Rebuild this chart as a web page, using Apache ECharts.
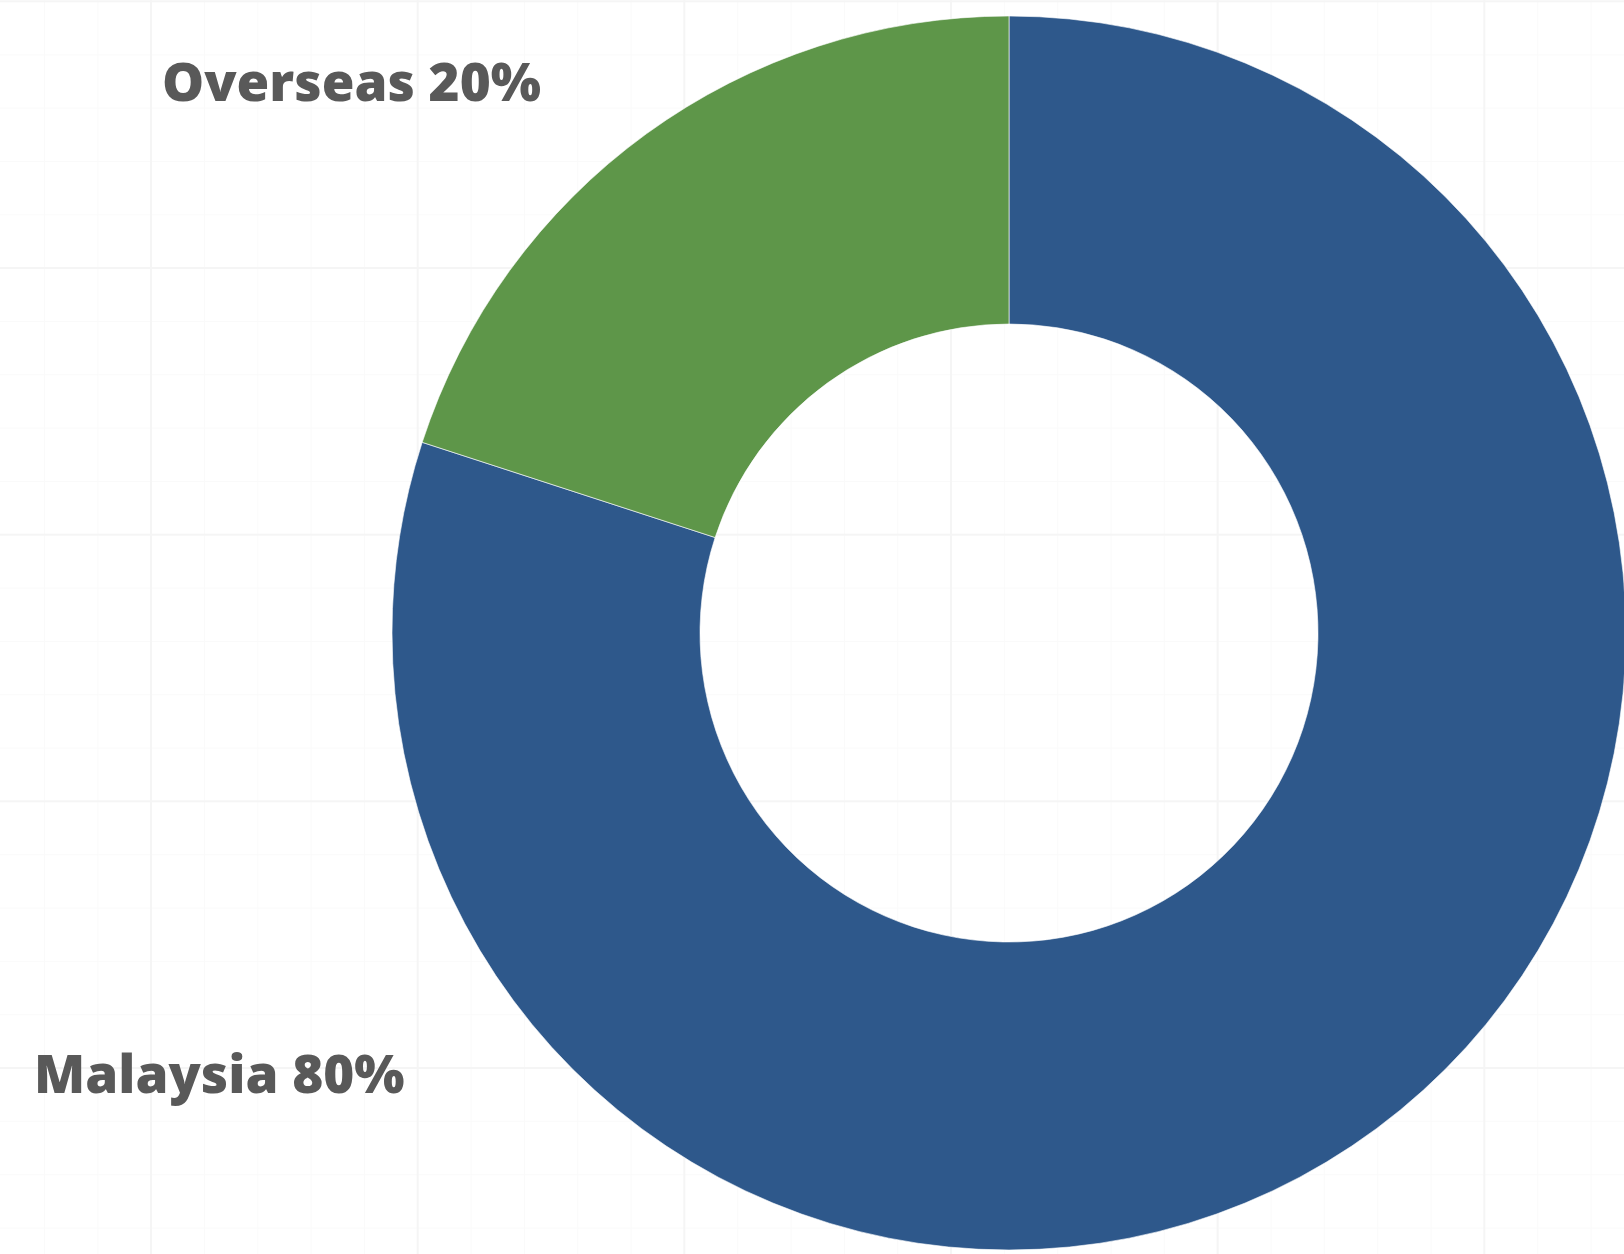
<!DOCTYPE html>
<html>
<head>
<meta charset="utf-8">
<script src="https://cdn.jsdelivr.net/npm/echarts@6/dist/echarts.min.js"></script>
<style>
  html, body { margin: 0; padding: 0; background: #ffffff; }
  #chart {
    width: 1624px;
    height: 1254px;
    background-color: #ffffff;
    /* faint drafting grid behind the donut: major lines every 5 cells, fine lines in between */
    background-image:
      linear-gradient(to right, #f5f5f5 2px, transparent 2px),
      linear-gradient(to bottom, #f5f5f5 2px, transparent 2px),
      linear-gradient(to right, #fafafa 1px, transparent 1px),
      linear-gradient(to bottom, #fafafa 1px, transparent 1px);
    background-size:
      266.67px 266.67px,
      266.67px 266.67px,
      53.33px 53.33px,
      53.33px 53.33px;
    background-position:
      150px 0px,
      0px 267px,
      44px 0px,
      0px 1px;
  }
</style>
</head>
<body>
<div id="chart"></div>
<script>
// Revenue split by market
const categories = ['Malaysia', 'Overseas'];
const shares = [80, 20];
const sliceColors = ['#2E588B', '#5E9649'];

// where each slice's caption sits (left edge, vertical middle of the text)
const labelAnchors = [
  { x: 34, y: 1078 },
  { x: 162, y: 86 }
];

const chart = echarts.init(document.getElementById('chart'), null, { renderer: 'canvas' });

chart.setOption({
  backgroundColor: 'transparent',
  animation: false,
  series: [{
    type: 'pie',
    center: [1009, 633],
    radius: [309, 617],
    startAngle: 90,
    clockwise: true,
    avoidLabelOverlap: false,
    itemStyle: {
      borderColor: 'rgba(255,255,255,0.6)',
      borderWidth: 1
    },
    label: {
      show: true,
      position: 'outside',
      formatter: '{b} {d}%',
      fontFamily: '"Open Sans", "Noto Sans", sans-serif',
      fontWeight: 800,
      fontSize: 53,
      color: '#595959'
    },
    labelLine: { show: false },
    labelLayout: function (params) {
      const a = labelAnchors[params.dataIndex];
      return { x: a.x, y: a.y, align: 'left', verticalAlign: 'middle' };
    },
    emphasis: { disabled: true },
    data: categories.map((name, i) => ({
      name: name,
      value: shares[i],
      itemStyle: { color: sliceColors[i] }
    }))
  }]
});
</script>
</body>
</html>
